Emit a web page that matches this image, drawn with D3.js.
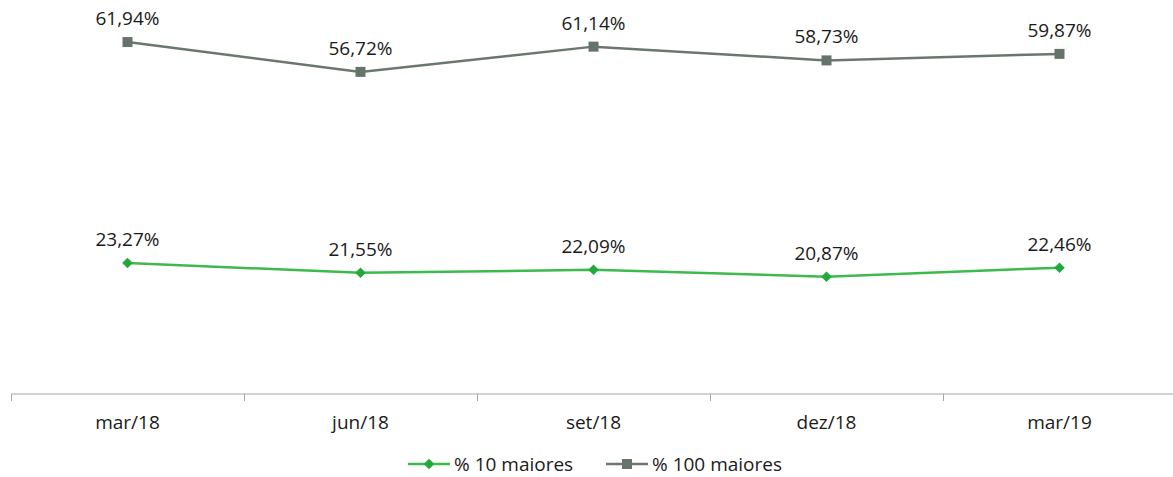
<!DOCTYPE html>
<html>
<head>
<meta charset="utf-8">
<script src="https://cdn.jsdelivr.net/npm/d3@7"></script>
<style>
  body { margin: 0; background: #fff; }
  svg text { font-family: "Open Sans", "Liberation Sans", Arial, sans-serif; fill: #1a1a1a; }
</style>
</head>
<body>
<svg id="chart" width="1173" height="477"></svg>
<script>
// data
const periods = ['mar/18', 'jun/18', 'set/18', 'dez/18', 'mar/19'];
const top10 = [23.27, 21.55, 22.09, 20.87, 22.46];
const top100 = [61.94, 56.72, 61.14, 58.73, 59.87];

const series = [
    { name: '% 10 maiores', values: top10, line: '#3dba4e', marker: '#22a83b', shape: 'diamond' },
    { name: '% 100 maiores', values: top100, line: '#6b776c', marker: '#66736a', shape: 'square' }
];

const svg = d3.select('#chart');
const fmt = v => v.toFixed(2).replace('.', ',') + '%';
const fontSize = 19;

const x = d3.scaleBand().domain(periods).range([11, 1176]);
const y = d3.scaleLinear().domain([0, 70]).range([396, -4]);

// axis
const axis = svg.append('g').attr('transform', 'translate(0,394)');
axis.append('line')
    .attr('x1', 11).attr('x2', 1173)
    .attr('stroke', '#a6a6a6').attr('stroke-width', 1);
axis.selectAll('.tick')
    .data(periods)
    .join('line')
    .attr('x1', d => Math.round(x(d)) + 0.5)
    .attr('x2', d => Math.round(x(d)) + 0.5)
    .attr('y1', 0).attr('y2', 7)
    .attr('stroke', '#a6a6a6');
axis.selectAll('text')
    .data(periods)
    .join('text')
    .attr('x', d => x(d) + x.bandwidth() / 2)
    .attr('y', 35)
    .attr('text-anchor', 'middle')
    .attr('font-size', fontSize)
    .text(d => d);

const cx = i => x(periods[i]) + x.bandwidth() / 2;

const line = d3.line()
    .x((d, i) => cx(i))
    .y(d => y(d));

function marker(sel, shape, color) {
    if (shape === 'diamond') {
        sel.append('path')
            .attr('d', d3.symbol().type(d3.symbolDiamond2).size(70))
            .attr('fill', color);
    } else {
        sel.append('rect')
            .attr('x', -5).attr('y', -5).attr('width', 10).attr('height', 10)
            .attr('fill', color);
    }
}

series.forEach(s => {
    const g = svg.append('g');
    g.append('path')
        .datum(s.values)
        .attr('d', line)
        .attr('fill', 'none')
        .attr('stroke', s.line)
        .attr('stroke-width', 2.5);

    const pts = g.selectAll('.pt')
        .data(s.values)
        .join('g')
        .attr('transform', (d, i) => `translate(${cx(i)},${y(d)})`);
    marker(pts, s.shape, s.marker);

    g.selectAll('.lbl')
        .data(s.values)
        .join('text')
        .attr('x', (d, i) => cx(i))
        .attr('y', d => y(d) - 17)
        .attr('text-anchor', 'middle')
        .attr('font-size', fontSize)
        .text(d => fmt(d));
});

// legend
const legendX = [408, 606];
series.forEach((s, i) => {
    const lg = svg.append('g').attr('transform', `translate(${legendX[i]},464)`);
    lg.append('line')
        .attr('x1', 0).attr('x2', 42)
        .attr('stroke', s.line).attr('stroke-width', 2.5);
    const m = lg.append('g').attr('transform', 'translate(21,0)');
    marker(m, s.shape, s.marker);
    lg.append('text')
        .attr('x', 46).attr('y', 7)
        .attr('font-size', fontSize)
        .text(s.name);
});
</script>
</body>
</html>
